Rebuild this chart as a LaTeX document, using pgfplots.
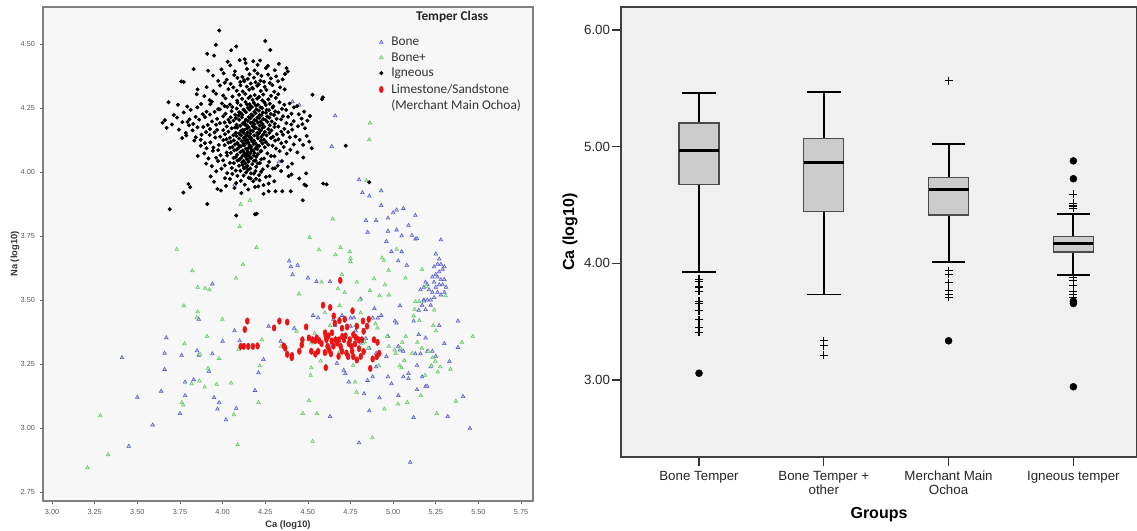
\documentclass[border=0pt]{standalone}
\usepackage{pgfplots}
\pgfplotsset{compat=1.18}
\usepgfplotslibrary{statistics}
\usepackage{fontspec}
\setmainfont{Liberation Sans}
\newfontfamily\carlito{Carlito}
\definecolor{boneblue}{RGB}{84,92,200}
\definecolor{bonegreen}{RGB}{96,200,96}
\definecolor{limered}{RGB}{235,20,20}
\pgfplotsset{
  /pgf/number format/fixed,
  /pgf/number format/fixed zerofill,
  /pgf/number format/precision=2,
  /pgf/number format/assume math mode=true,
}
\begin{document}
\begin{tikzpicture}
\path[use as bounding box] (0,0) rectangle (852.75pt,398.25pt);
% ---------------- scatter plot ----------------
\begin{axis}[
  at={(32.25pt,22.5pt)}, anchor=south west, scale only axis,
  width=367.5pt, height=370.5pt,
  xmin=2.947, xmax=5.82, ymin=2.715, ymax=4.645,
  xtick={3,3.25,3.5,3.75,4,4.25,4.5,4.75,5,5.25,5.5,5.75},
  ytick={2.75,3,3.25,3.5,3.75,4,4.25,4.5},
  axis background/.style={fill=black!3},
  axis line style={black!50, line width=0.8pt},
  tick align=outside, major tick length=2.5pt,
  tick style={black!60, line width=0.5pt},
  xtick pos=left, ytick pos=left,
  ticklabel style={font=\fontsize{5.5}{6}\selectfont, text=black!65},
  xlabel={Ca (log10)}, ylabel={Na (log10)},
  label style={font=\bfseries\fontsize{7}{8}\selectfont, text=black!80},
  xlabel style={at={(axis description cs:0.5,-0.0486)}, anchor=center},
  ylabel style={at={(axis description cs:-0.057,0.5)}, anchor=center},
  legend cell align=left,
  legend image code/.code={\draw[mark repeat=1,mark phase=1,#1] plot coordinates {(0cm,0cm)};},
  legend style={at={(0.686,0.945)}, anchor=north west, draw=none, fill=none,
    font=\carlito\fontsize{10}{11.5}\selectfont, text=black!80, inner sep=0pt,
    row sep=-0.4pt, /tikz/every odd column/.append style={column sep=4pt}},
]
\node[font=\carlito\bfseries\fontsize{10}{12}\selectfont, text=black!85] at (axis description cs:0.835,0.980) {Temper Class};
% Bone
\addplot[only marks, mark=triangle*, mark size=1.6pt, draw=boneblue, fill=boneblue!35, line width=0.4pt] coordinates {
(4.41,4.275) (4.45,4.262) (4.66,4.22) (4.64,4.10) (4.33,4.04) (4.07,3.95)
(4.80,3.97) (4.82,3.92) (4.86,3.906) (4.93,3.927) (4.93,3.869) (4.85,3.765)
(4.84,3.811) (4.90,3.811) (4.97,3.820) (5.00,3.841) (5.02,3.852) (5.06,3.858)
(5.13,3.831) (5.09,3.792) (4.97,3.769) (5.02,3.774) (5.05,3.751) (5.11,3.753)
(4.96,3.729) (4.99,3.689) (5.03,3.653) (5.13,3.738) (5.14,3.740) (5.28,3.735)
(5.05,3.689) (5.08,3.636)
(5.25,3.68) (5.27,3.66) (5.26,3.64) (5.24,3.63) (5.28,3.64) (5.30,3.63)
(5.29,3.62) (5.27,3.61) (5.25,3.60) (5.23,3.59) (5.26,3.59) (5.28,3.58)
(5.30,3.58) (5.24,3.57) (5.27,3.56) (5.29,3.56) (5.31,3.55) (5.25,3.55)
(5.23,3.53) (5.26,3.53) (5.28,3.52) (5.24,3.51) (5.22,3.50) (5.30,3.53)
(5.20,3.56) (5.21,3.54) (5.19,3.57) (5.18,3.55) (5.20,3.50) (5.22,3.48)
(5.18,3.50) (5.16,3.54) (5.17,3.48) (5.15,3.46)
(5.38,3.418) (5.38,3.315) (5.41,3.123) (5.45,2.999) (5.32,3.045) (5.10,2.866)
(5.12,3.041) (4.80,2.942) (4.63,3.045) (4.92,3.118) (4.86,3.067) (5.03,3.127)
(5.06,3.20)
(3.41,3.275) (3.50,3.12) (3.59,3.012) (3.45,2.929) (3.67,3.353) (3.66,3.292)
(3.66,3.229) (3.64,3.144) (3.75,3.057) (3.76,3.284) (3.78,3.18) (3.78,3.127)
(3.83,3.189) (3.85,3.302) (3.86,3.425) (3.86,3.284) (3.92,3.222) (3.94,3.563)
(3.94,3.29) (3.95,3.119) (3.97,3.074) (3.98,3.099) (4.00,3.339) (4.02,3.032)
(4.07,3.38) (4.08,3.077) (4.10,3.341) (4.19,3.147) (4.21,3.216) (4.24,3.268)
(4.27,3.398) (4.34,3.339) (4.39,3.652) (4.40,3.63) (4.41,3.599) (4.44,3.636)
(4.50,3.586) (4.55,3.572) (4.56,3.431) (4.63,3.572) (4.65,3.425) (4.67,3.253)
(4.63,3.319) (4.71,3.226) (4.72,3.213) (4.74,3.18) (4.75,3.398) (4.77,3.431)
(4.81,3.504) (4.81,3.332) (4.83,3.134) (4.85,3.186) (4.86,3.312) (4.89,3.467)
(4.90,3.292) (4.88,3.20) (4.90,3.239) (4.91,3.43) (4.96,3.279) (4.97,3.358)
(4.97,3.20) (4.99,3.173) (5.01,3.418) (5.02,3.41) (5.03,3.319) (5.04,3.305)
(5.04,3.478) (5.06,3.30) (5.09,3.213) (5.09,3.193) (5.12,3.418) (5.13,3.29)
(5.14,3.245) (5.15,3.365) (5.16,3.29) (5.18,3.496) (5.19,3.463) (5.19,3.352)
(5.19,3.163) (5.20,3.163) (5.20,3.30) (5.22,3.239) (5.23,3.30)
(4.75,3.43) (4.78,3.38) (4.84,3.35) (4.70,3.44) (4.66,3.40) (4.53,3.44)
(4.42,3.39) (4.88,3.43) (4.93,3.44) (5.27,3.40) (5.30,3.33) (5.25,3.28)
(5.33,3.26) (5.14,3.15) (5.17,3.20)
};
\addlegendentry{Bone}
% Bone+
\addplot[only marks, mark=triangle*, mark size=1.6pt, draw=bonegreen, fill=bonegreen!35, line width=0.4pt] coordinates {
(3.208,2.845) (3.283,3.048) (3.329,2.896) (3.731,3.698) (3.777,3.329) (3.773,3.478)
(3.761,3.10) (3.769,3.09) (3.822,3.614) (3.848,3.431) (3.854,3.55) (3.854,3.454)
(3.868,3.288) (3.818,3.173) (3.864,3.184) (3.898,3.546) (3.923,3.54) (3.909,3.358)
(3.895,3.16) (3.915,3.233) (3.979,3.272) (3.965,3.171) (3.999,3.425) (4.05,3.176)
(4.066,3.052) (4.078,3.586) (4.088,2.935) (4.10,3.787) (4.106,3.874) (4.12,3.639)
(4.161,3.89) (4.199,3.705) (4.211,3.10) (4.218,3.243) (4.23,3.345) (4.094,3.308)
(4.343,3.319) (4.434,3.378) (4.448,3.524) (4.463,3.325) (4.47,3.057) (4.51,3.745)
(4.506,3.107) (4.52,3.332) (4.516,3.206) (4.52,3.235) (4.528,2.948) (4.553,3.057)
(4.565,3.696) (4.575,3.262) (4.605,3.292) (4.609,3.239) (4.646,3.817) (4.662,3.677)
(4.676,3.544) (4.686,3.478) (4.686,3.299) (4.691,3.705) (4.716,3.53) (4.746,3.689)
(4.75,3.663) (4.75,3.65) (4.76,3.462) (4.766,3.245) (4.777,3.18) (4.785,3.14)
(4.787,3.57) (4.803,3.50) (4.823,3.332) (4.833,3.339) (4.843,3.967) (4.853,3.312)
(4.86,4.126) (4.864,4.192) (4.864,3.537) (4.878,2.962) (4.888,3.583) (4.896,3.407)
(4.908,3.391) (4.916,3.243) (4.92,3.517) (4.934,3.665) (4.946,3.655) (4.948,3.074)
(4.952,3.56) (4.965,3.358) (4.973,3.616) (4.975,3.319) (4.975,3.52) (5.015,3.292)
(5.009,3.305) (5.02,3.698) (5.029,3.094) (5.039,3.243) (5.043,3.312) (5.049,3.235)
(5.053,3.335) (5.065,3.264) (5.072,3.586) (5.074,3.358) (5.082,3.10) (5.112,3.292)
(5.12,3.438) (5.126,3.464) (5.13,3.494) (5.142,3.335) (5.154,3.42) (5.154,3.494)
(5.162,3.127) (5.168,3.312) (5.17,3.62) (5.187,3.206) (5.195,3.554) (5.207,3.30)
(5.225,3.243) (5.231,3.275) (5.235,3.40) (5.241,3.461) (5.247,3.261) (5.251,3.38)
(5.255,3.057) (5.262,3.219) (5.276,3.239) (5.308,3.517) (5.336,3.23) (5.368,3.105)
(5.403,3.335) (5.467,3.358)
(4.60,3.45) (4.63,3.40) (4.54,3.37) (4.70,3.60) (4.58,3.57) (4.81,3.45) (4.78,3.40)
};
\addlegendentry{Bone+}
% Igneous
\addplot[only marks, mark=*, mark size=1.3pt, black] coordinates {
(2.945,4.412)
(3.98,4.553)
(3.96,4.497) (4.08,4.491) (4.25,4.512)
(4.05,4.476) (4.28,4.477)
(3.91,4.462) (3.95,4.455)
(4.03,4.431) (4.10,4.437) (4.13,4.441) (4.18,4.433) (4.22,4.436) (4.33,4.423)
(4.045,4.417) (4.135,4.426) (4.205,4.419) (4.265,4.415) (4.375,4.406)
(3.83,4.402) (3.915,4.396) (3.993,4.401) (4.072,4.394) (4.143,4.403) (4.187,4.397) (4.254,4.406) (4.306,4.398) (4.382,4.393)
(3.944,4.377) (4.006,4.386) (4.068,4.379) (4.116,4.372) (4.158,4.382) (4.205,4.385) (4.228,4.376) (4.267,4.381) (4.314,4.374) (4.366,4.383)
(4.024,4.361) (4.087,4.368) (4.126,4.359) (4.148,4.364) (4.184,4.369) (4.222,4.357) (4.283,4.366) (4.352,4.362)
(3.758,4.354) (3.772,4.352) (3.974,4.356) (4.013,4.349) (4.047,4.345) (4.104,4.352) (4.127,4.355) (4.165,4.346) (4.193,4.351) (4.212,4.343) (4.243,4.353) (4.276,4.348) (4.325,4.355)
(3.906,4.332) (3.985,4.338) (4.063,4.331) (4.105,4.339) (4.142,4.334) (4.174,4.329) (4.203,4.337) (4.247,4.333) (4.292,4.340) (4.337,4.331)
(3.853,4.323) (3.946,4.316) (4.034,4.324) (4.083,4.318) (4.118,4.315) (4.156,4.322) (4.178,4.326) (4.224,4.317) (4.257,4.321) (4.303,4.314) (4.364,4.323)
(3.848,4.304) (3.893,4.297) (3.962,4.306) (4.004,4.299) (4.058,4.295) (4.097,4.302) (4.133,4.305) (4.163,4.296) (4.188,4.301) (4.214,4.294) (4.238,4.303) (4.284,4.298) (4.326,4.304) (4.527,4.302) (4.588,4.292)
(3.924,4.281) (4.017,4.288) (4.085,4.279) (4.114,4.286) (4.152,4.289) (4.176,4.282) (4.203,4.287) (4.233,4.280) (4.268,4.284) (4.312,4.290) (4.583,4.285)
(3.683,4.273) (3.874,4.266) (3.937,4.275) (3.996,4.268) (4.043,4.264) (4.087,4.271) (4.134,4.274) (4.158,4.265) (4.184,4.270) (4.207,4.263) (4.246,4.272) (4.277,4.267) (4.334,4.273) (4.393,4.268)
(3.738,4.263) (3.793,4.256) (3.928,4.265) (4.012,4.258) (4.057,4.254) (4.106,4.261) (4.143,4.264) (4.166,4.255) (4.195,4.260) (4.223,4.253) (4.253,4.262) (4.297,4.257) (4.362,4.263) (4.437,4.258)
(3.852,4.253) (3.974,4.246) (4.027,4.255) (4.083,4.248) (4.123,4.244) (4.148,4.251) (4.172,4.254) (4.198,4.245) (4.232,4.250) (4.258,4.243) (4.293,4.252) (4.348,4.247) (4.418,4.253)
(3.813,4.243) (3.906,4.236) (3.984,4.245) (4.053,4.238) (4.097,4.234) (4.127,4.241) (4.158,4.244) (4.186,4.235) (4.213,4.240) (4.236,4.233) (4.272,4.242) (4.308,4.237) (4.373,4.243)
(3.772,4.233) (3.884,4.226) (3.953,4.235) (4.017,4.228) (4.074,4.224) (4.106,4.231) (4.137,4.234) (4.168,4.225) (4.193,4.230) (4.217,4.223) (4.254,4.232) (4.283,4.227) (4.327,4.233) (4.404,4.228) (4.478,4.236)
(3.714,4.223) (3.842,4.216) (3.926,4.225) (4.004,4.218) (4.047,4.214) (4.094,4.221) (4.116,4.224) (4.153,4.215) (4.177,4.220) (4.204,4.213) (4.228,4.222) (4.262,4.217) (4.302,4.223) (4.354,4.218) (4.447,4.226) (4.512,4.219)
(3.733,4.213) (3.806,4.206) (3.897,4.215) (3.968,4.208) (4.034,4.204) (4.078,4.211) (4.113,4.214) (4.137,4.205) (4.163,4.210) (4.186,4.203) (4.214,4.212) (4.238,4.207) (4.274,4.213) (4.317,4.208) (4.384,4.216) (4.463,4.209)
(3.662,4.203) (3.794,4.196) (3.863,4.205) (3.938,4.198) (4.012,4.194) (4.064,4.201) (4.097,4.204) (4.128,4.195) (4.148,4.200) (4.174,4.193) (4.196,4.202) (4.223,4.197) (4.253,4.203) (4.288,4.198) (4.343,4.206) (4.417,4.199) (4.497,4.201)
(3.648,4.193) (3.703,4.186) (3.764,4.195) (3.828,4.188) (3.913,4.184) (3.984,4.191) (4.043,4.194) (4.082,4.185) (4.118,4.190) (4.142,4.183) (4.164,4.192) (4.186,4.187) (4.207,4.193) (4.234,4.188) (4.263,4.196) (4.306,4.189) (4.374,4.191) (4.468,4.187)
(3.803,4.183) (3.887,4.176) (3.962,4.185) (4.024,4.178) (4.073,4.174) (4.104,4.181) (4.133,4.184) (4.152,4.175) (4.176,4.180) (4.195,4.173) (4.218,4.182) (4.244,4.177) (4.276,4.183) (4.327,4.178) (4.403,4.186) (4.442,4.179)
(3.672,4.173) (3.744,4.166) (3.853,4.175) (3.926,4.168) (4.004,4.164) (4.053,4.171) (4.086,4.174) (4.117,4.165) (4.143,4.170) (4.163,4.163) (4.187,4.172) (4.213,4.167) (4.234,4.173) (4.268,4.168) (4.304,4.176) (4.362,4.169) (4.483,4.171)
(3.824,4.163) (3.903,4.156) (3.968,4.165) (4.034,4.158) (4.077,4.154) (4.108,4.161) (4.127,4.164) (4.147,4.155) (4.177,4.160) (4.203,4.153) (4.224,4.162) (4.248,4.157) (4.286,4.163) (4.344,4.158) (4.408,4.166)
(3.784,4.153) (3.876,4.146) (3.953,4.155) (4.014,4.148) (4.063,4.144) (4.097,4.151) (4.123,4.154) (4.138,4.145) (4.162,4.150) (4.186,4.143) (4.214,4.152) (4.238,4.147) (4.274,4.153) (4.318,4.148) (4.384,4.156)
(3.787,4.143) (3.843,4.136) (3.924,4.145) (3.986,4.138) (4.043,4.134) (4.082,4.141) (4.108,4.144) (4.133,4.135) (4.154,4.140) (4.168,4.133) (4.203,4.142) (4.227,4.137) (4.258,4.143) (4.296,4.138) (4.354,4.146) (4.428,4.139) (4.493,4.141)
(3.763,4.133) (3.872,4.126) (3.957,4.135) (4.023,4.128) (4.066,4.124) (4.097,4.131) (4.124,4.134) (4.144,4.125) (4.163,4.130) (4.184,4.123) (4.207,4.132) (4.242,4.127) (4.284,4.133) (4.327,4.128) (4.394,4.136)
(3.834,4.123) (3.928,4.116) (4.004,4.125) (4.048,4.118) (4.087,4.114) (4.113,4.121) (4.134,4.124) (4.152,4.115) (4.174,4.120) (4.193,4.113) (4.224,4.122) (4.254,4.117) (4.308,4.123) (4.373,4.118) (4.452,4.126) (4.508,4.119)
(3.896,4.113) (3.978,4.106) (4.034,4.115) (4.073,4.108) (4.097,4.104) (4.123,4.111) (4.142,4.114) (4.158,4.105) (4.183,4.110) (4.204,4.103) (4.234,4.112) (4.268,4.107) (4.344,4.113) (4.417,4.108)
(3.872,4.103) (3.946,4.096) (4.012,4.105) (4.058,4.098) (4.093,4.094) (4.108,4.101) (4.127,4.104) (4.153,4.095) (4.168,4.100) (4.193,4.093) (4.214,4.102) (4.247,4.097) (4.293,4.103) (4.358,4.098) (4.472,4.106) (4.722,4.103)
(3.906,4.093) (3.974,4.086) (4.043,4.095) (4.082,4.088) (4.118,4.084) (4.137,4.091) (4.163,4.094) (4.178,4.085) (4.204,4.090) (4.227,4.083) (4.313,4.092) (4.397,4.087) (4.523,4.093)
(3.943,4.083) (4.024,4.076) (4.068,4.085) (4.104,4.078) (4.128,4.074) (4.147,4.081) (4.172,4.084) (4.187,4.075) (4.223,4.080) (4.263,4.073) (4.334,4.082) (4.438,4.077)
(3.893,4.073) (3.988,4.066) (4.048,4.075) (4.086,4.068) (4.118,4.064) (4.143,4.071) (4.164,4.074) (4.183,4.065) (4.207,4.070) (4.284,4.063) (4.376,4.072)
(3.854,4.063) (3.962,4.056) (4.027,4.065) (4.076,4.058) (4.107,4.054) (4.134,4.061) (4.153,4.064) (4.168,4.055) (4.197,4.060) (4.243,4.053) (4.304,4.062) (4.473,4.057)
(3.917,4.053) (4.003,4.046) (4.064,4.055) (4.097,4.048) (4.123,4.044) (4.143,4.051) (4.163,4.054) (4.193,4.045) (4.227,4.050) (4.348,4.043)
(3.973,4.043) (4.043,4.036) (4.087,4.045) (4.114,4.038) (4.134,4.034) (4.152,4.041) (4.184,4.044) (4.218,4.035) (4.273,4.040) (4.407,4.033)
(3.904,4.033) (4.013,4.026) (4.066,4.035) (4.117,4.028) (4.146,4.024) (4.174,4.031) (4.206,4.034) (4.323,4.025)
(3.937,4.023) (4.054,4.016) (4.096,4.025) (4.134,4.018) (4.162,4.014) (4.197,4.021) (4.264,4.024) (4.307,4.015) (4.383,4.020)
(3.993,4.013) (4.077,4.006) (4.124,4.015) (4.148,4.008) (4.193,4.004) (4.236,4.011) (4.294,4.014)
(3.963,4.003) (4.027,3.996) (4.104,4.005) (4.137,3.998) (4.184,3.994) (4.226,4.001) (4.343,4.004) (4.49,3.995)
(4.057,3.993) (4.123,3.986) (4.166,3.995) (4.214,3.988) (4.276,3.984) (4.404,3.991)
(3.93,3.983) (4.014,3.976) (4.087,3.985) (4.153,3.978) (4.196,3.974) (4.254,3.981) (4.387,3.984) (4.45,3.975)
(4.043,3.973) (4.107,3.966) (4.164,3.975) (4.217,3.968) (4.303,3.964)
(3.95,3.962) (4.08,3.957) (4.18,3.964) (4.27,3.955) (4.48,3.951) (4.49,3.947) (4.59,3.955) (4.86,3.96)
(3.80,3.953) (4.02,3.946) (4.13,3.951) (4.21,3.944) (4.24,3.949) (4.61,3.952)
(3.81,3.941) (3.97,3.934) (4.07,3.938) (4.19,3.942)
(3.99,3.928) (4.15,3.932) (4.27,3.925) (4.31,3.925) (4.35,3.925) (4.40,3.925)
(3.77,3.92) (4.11,3.918) (4.24,3.915)
(4.47,3.89) (3.91,3.875) (3.69,3.855) (4.19,3.835) (4.20,3.837) (4.08,3.83)
};
\addlegendentry{Igneous}
% Limestone / Sandstone
\addplot[only marks, mark=*, mark size=2.4pt, limered, mark options={xscale=0.6}] coordinates {
(4.106,3.319) (4.124,3.319) (4.150,3.319) (4.177,3.319) (4.205,3.321) (4.130,3.385)
(4.145,3.418) (4.302,3.391) (4.333,3.418) (4.379,3.414) (4.359,3.321) (4.367,3.312)
(4.379,3.288) (4.407,3.283) (4.405,3.275) (4.468,3.345) (4.464,3.325) (4.490,3.395)
(4.506,3.352) (4.526,3.345) (4.542,3.341) (4.552,3.352) (4.566,3.341) (4.544,3.289)
(4.589,3.480) (4.601,3.372) (4.605,3.358) (4.609,3.345) (4.615,3.319) (4.625,3.305)
(4.635,3.290) (4.641,3.372) (4.631,3.471) (4.652,3.438) (4.658,3.410) (4.662,3.345)
(4.672,3.332) (4.682,3.345) (4.692,3.319) (4.702,3.358) (4.712,3.345) (4.690,3.577)
(4.716,3.425) (4.726,3.293) (4.736,3.279) (4.746,3.345) (4.756,3.319) (4.766,3.279)
(4.776,3.329) (4.787,3.266) (4.797,3.345) (4.762,3.458) (4.787,3.398) (4.767,3.365)
(4.817,3.345) (4.827,3.378) (4.823,3.418) (4.827,3.299) (4.847,3.398) (4.857,3.425)
(4.866,3.233) (4.888,3.345) (4.904,3.279) (4.908,3.335) (4.918,3.292) (4.605,3.236)
(4.620,3.360) (4.650,3.320) (4.700,3.300) (4.720,3.360) (4.740,3.330) (4.680,3.280)
(4.760,3.300) (4.700,3.390) (4.640,3.340) (4.580,3.330) (4.800,3.310) (4.780,3.355)
(4.560,3.300) (4.600,3.295) (4.730,3.395) (4.685,3.420) (4.810,3.280) (4.450,3.300)
(4.520,3.300) (4.880,3.270)
};
\addlegendentry{\begin{tabular}[t]{@{}l@{}}Limestone/Sandstone\\(Merchant Main Ochoa)\end{tabular}}
\end{axis}
% ---------------- box plot ----------------
\begin{axis}[
  at={(465.75pt,55.5pt)}, anchor=south west, scale only axis,
  width=387pt, height=337.5pt,
  xmin=-0.625, xmax=3.51, ymin=2.34, ymax=6.197,
  axis background/.style={fill=black!6},
  axis line style={black!75, line width=1pt},
  tick align=outside, major tick length=7pt,
  tick style={black!80, line width=0.8pt},
  xtick pos=left, ytick pos=left,
  xtick={0,1,2,3},
  xticklabels={Bone Temper, {Bone Temper +\\other}, {Merchant Main\\Ochoa}, Igneous temper},
  xticklabel style={align=center, font=\fontsize{10}{10.5}\selectfont, text=black!85},
  ytick={3,4,5,6},
  yticklabel style={font=\fontsize{10}{11}\selectfont, text=black!85, inner xsep=1pt},
  xlabel={Groups}, ylabel={Ca (log10)},
  label style={font=\bfseries\fontsize{12}{14}\selectfont},
  xlabel style={at={(axis description cs:0.5,-0.129)}, anchor=center},
  ylabel style={at={(axis description cs:-0.099,0.5)}, anchor=center},
  boxplot/draw direction=y,
  boxplot/every box/.style={draw=black!70, fill=black!20, line width=1pt},
  boxplot/every median/.style={black, line width=2pt},
  boxplot/every whisker/.style={black, line width=1.4pt},
]
\addplot+[black, mark=none, boxplot prepared={draw position=0, lower whisker=3.928, lower quartile=4.675, median=4.965, upper quartile=5.203, upper whisker=5.458, box extend=0.32, whisker extend=0.27}] coordinates {};
\addplot+[black, mark=none, boxplot prepared={draw position=1, lower whisker=3.733, lower quartile=4.446, median=4.867, upper quartile=5.067, upper whisker=5.470, box extend=0.32, whisker extend=0.27}] coordinates {};
\addplot+[black, mark=none, boxplot prepared={draw position=2, lower whisker=4.009, lower quartile=4.414, median=4.635, upper quartile=4.733, upper whisker=5.023, box extend=0.32, whisker extend=0.27}] coordinates {};
\addplot+[black, mark=none, boxplot prepared={draw position=3, lower whisker=3.901, lower quartile=4.096, median=4.168, upper quartile=4.229, upper whisker=4.426, box extend=0.32, whisker extend=0.27}] coordinates {};
% outliers (+)
\addplot[only marks, mark=+, mark size=3pt, black, line width=0.8pt] coordinates {
(0,3.864) (0,3.843) (0,3.797) (0,3.762) (0,3.675) (0,3.655) (0,3.594) (0,3.516) (0,3.449) (0,3.409)
(1,3.336) (1,3.293) (1,3.212)
(2,5.565) (2,3.936) (2,3.907) (2,3.835) (2,3.768) (2,3.733) (2,3.710)
(3,4.591) (3,4.516) (3,4.497) (3,4.487) (3,4.472) (3,3.878) (3,3.849) (3,3.806) (3,3.762) (3,3.733) (3,3.704)
};
% extremes (dots)
\addplot[only marks, mark=*, mark size=2.6pt, black] coordinates {
(0,3.058) (2,3.336) (3,4.878) (3,4.725) (3,3.675) (3,3.655) (3,2.942)
};
\end{axis}
\end{tikzpicture}
\end{document}
